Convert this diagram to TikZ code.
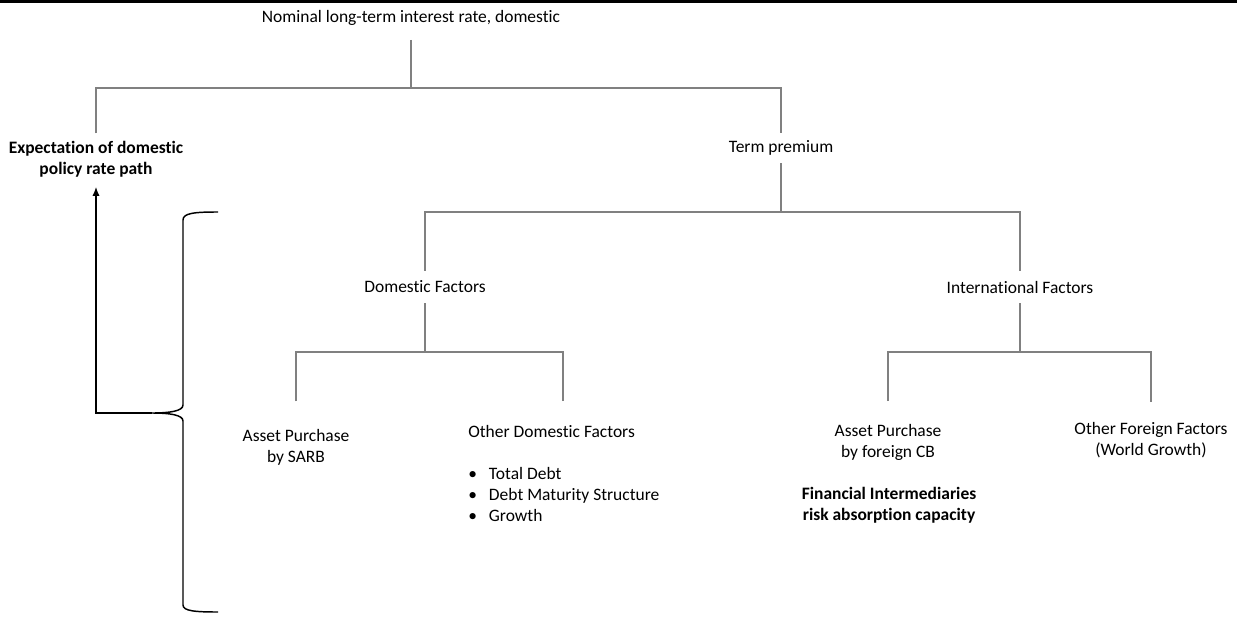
\documentclass[tikz,border=0pt]{standalone}
\usepackage{fontspec}
\setmainfont{Carlito}[Ligatures=NoCommon]
\usetikzlibrary{arrows.meta}
\begin{document}
\begin{tikzpicture}[x=0.75pt, y=-0.75pt, >={Latex[length=7pt,width=5.5pt]}, font=\fontsize{13.1}{15.75}\selectfont,
    lbl/.style={inner sep=0pt, align=center},
    strong/.style={lbl, font=\fontsize{13.1}{15.75}\selectfont\bfseries},
    branch/.style={draw=black!50, line width=0.8pt},
    lever/.style={draw=black, line width=1.5pt}]
  \useasboundingbox (0,0) rectangle (1237,617);
  \draw[black, line width=2pt] (0,1.3) -- (1237,1.3);
  \node[lbl] (nom) at (411,18) {Nominal long-term interest rate, domestic};
  \node[strong] (exp) at (96,159) {Expectation of domestic\\policy rate path};
  \node[lbl] (tp) at (781,148) {Term premium};
  \node[lbl] (dom) at (425,287) {Domestic Factors};
  \node[lbl] (intl) at (1020,287) {International Factors};
  \node[lbl] (apsarb) at (296,447) {Asset Purchase\\by SARB};
  \node[lbl, align=left, anchor=west] (odf) at (468,473.5)
    {Other Domestic Factors\\[15.75pt]
     \textbullet\hspace{9pt}Total Debt\\
     \textbullet\hspace{9pt}Debt Maturity Structure\\
     \textbullet\hspace{9pt}Growth};
  \node[lbl] (apcb) at (888,442) {Asset Purchase\\by foreign CB};
  \node[strong] (fin) at (889,505) {Financial Intermediaries\\risk absorption capacity};
  \node[lbl] (off) at (1151,440) {Other Foreign Factors\\(World Growth)};
  \coordinate (j1) at (411,88);
  \coordinate (j2) at (781,212);
  \coordinate (j3) at (425,352);
  \coordinate (j4) at (1020,352);
  \coordinate (odtop) at (563,401);
  \draw[branch, shorten <=10.5pt] (nom.south) -- (j1);
  \draw[branch, shorten <=5.6pt, shorten >=5.6pt] (exp.north) |- (j1) -| (tp.north);
  \draw[branch, shorten <=5.6pt] (tp.south) -- (j2);
  \draw[branch, shorten <=7.5pt, shorten >=7.5pt] (dom.north) |- (j2) -| (intl.north);
  \draw[branch, shorten <=7.5pt] (dom.south) -- (j3);
  \draw[branch, shorten <=7.5pt] (intl.south) -- (j4);
  \draw[branch, shorten <=20.6pt] (apsarb.north) |- (j3);
  \draw[branch] (odtop) |- (j3);
  \draw[branch, shorten <=16.9pt, shorten >=15pt] (apcb.north) |- (j4) -| (off.north);
  \coordinate (cusp) at (152,413);
  \draw[black, line width=1.1pt] (218,212) .. controls (195,212) and (183,213) .. (183,220)
    -- (183,405) .. controls (183,411) and (170,413) .. (cusp)
    .. controls (170,413) and (183,415) .. (183,421)
    -- (183,605) .. controls (183,611) and (195,612) .. (218,612);
  \draw[lever, ->, shorten >=7pt] (cusp) -| (exp.south);
\end{tikzpicture}
\end{document}
